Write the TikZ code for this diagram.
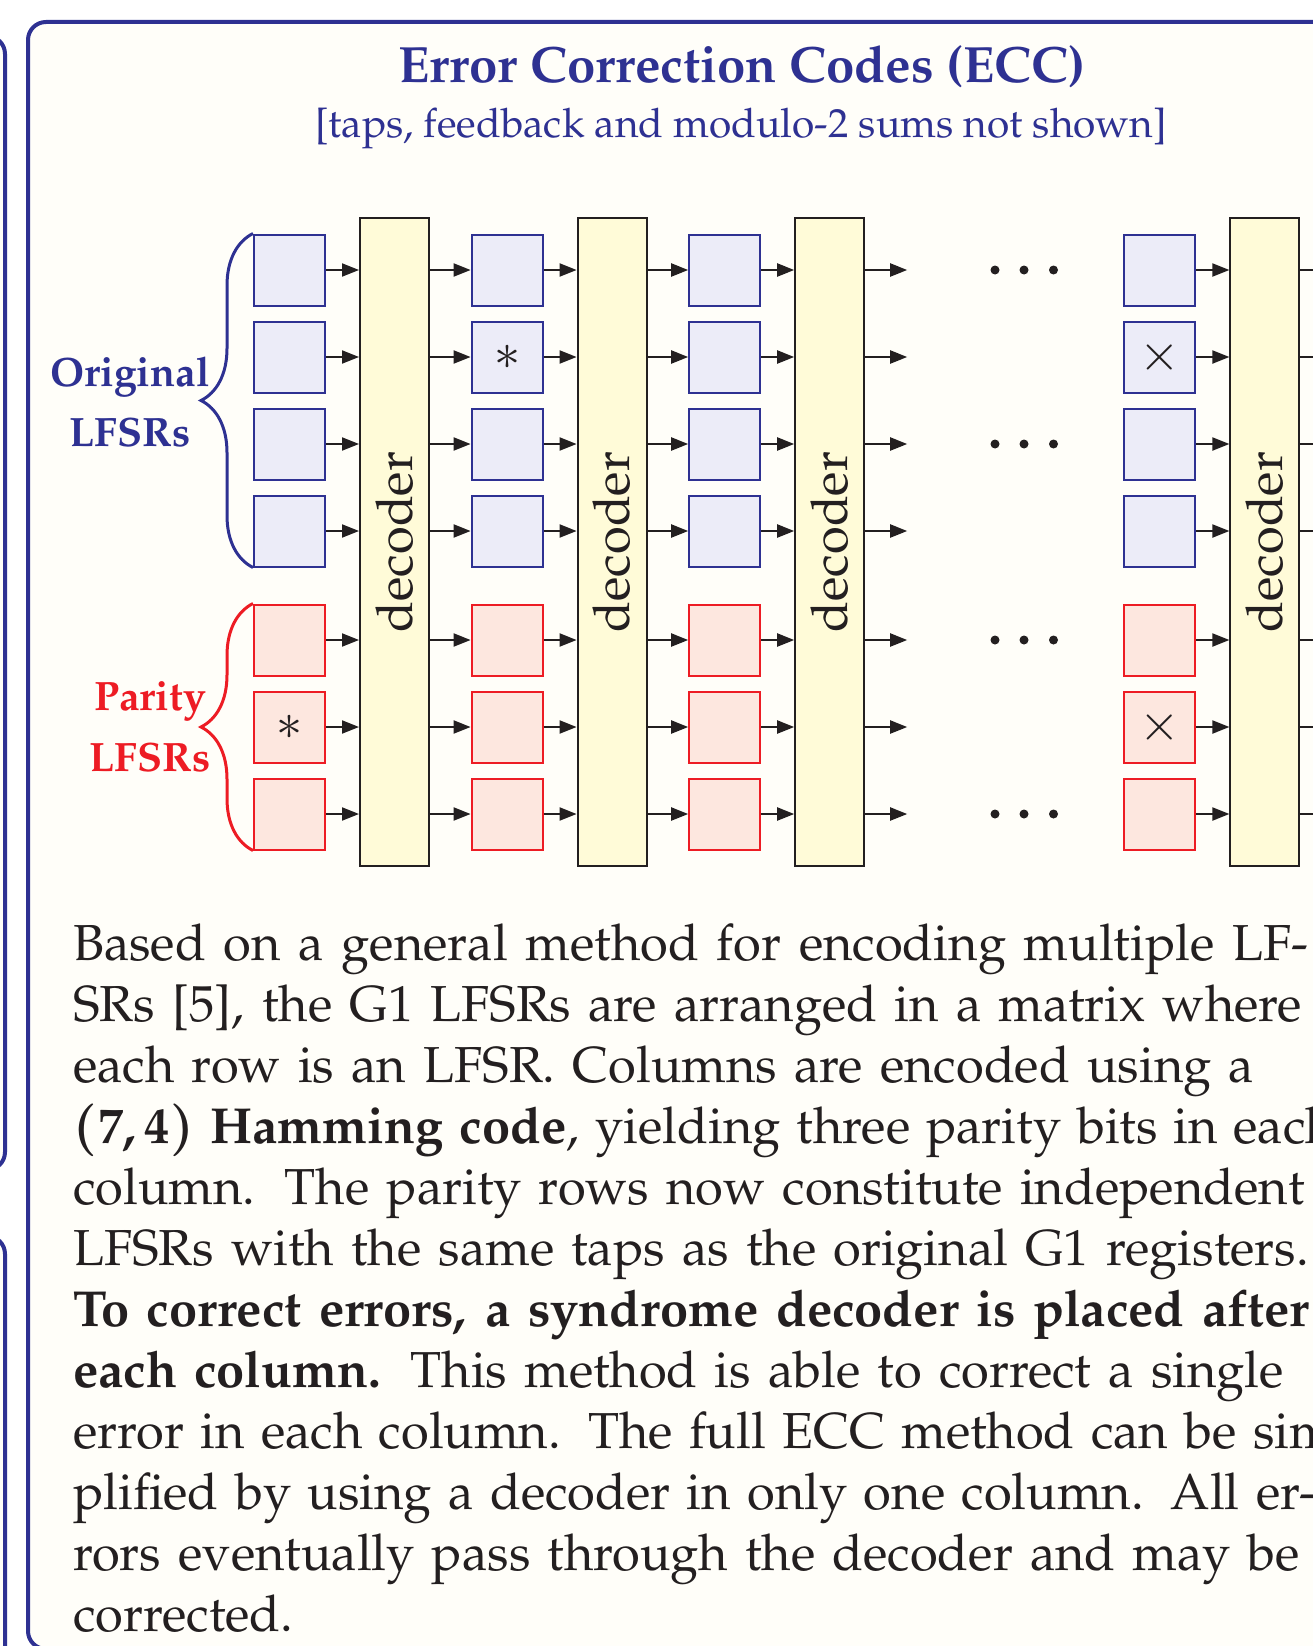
\documentclass[tikz,border=0pt]{standalone}
\usepackage[T1]{fontenc}
\usepackage{mathpazo}
\usepackage{graphicx}
\usetikzlibrary{arrows.meta,decorations.pathreplacing,calc}
\definecolor{frameblue}{RGB}{46,49,146}
\definecolor{cellblue}{RGB}{236,236,248}
\definecolor{parred}{RGB}{237,28,36}
\definecolor{cellred}{RGB}{253,231,223}
\definecolor{decfill}{RGB}{255,251,216}
\definecolor{decdraw}{RGB}{35,31,32}
\definecolor{cream}{RGB}{255,254,249}
\definecolor{ink}{RGB}{35,31,32}
\newcommand{\myline}[2]{\makebox[#1pt][s]{#2}}
\tikzset{
  origcell/.style={draw=frameblue, fill=cellblue, line width=2pt, minimum width=71pt, minimum height=71pt, inner sep=0pt},
  parcell/.style={origcell, draw=parred, fill=cellred},
  marktext/.style={inner sep=0pt, text=ink, font=\fontsize{50}{54}\selectfont},
  decbox/.style={draw=decdraw, fill=decfill, line width=2pt, minimum width=69pt, minimum height=648pt, inner sep=0pt, text=ink, font=\fontsize{50.6}{60}\selectfont},
  flow/.style={draw=ink, line width=2pt, -{Triangle[length=17pt,width=13pt]}},
  dotn/.style={circle, fill=ink, inner sep=0pt, minimum size=9pt},
  bodyline/.style={anchor=base west, inner sep=0pt, text=ink, font=\fontsize{50.6}{61}\selectfont},
  sidelbl/.style={anchor=base, inner sep=0pt, font=\fontsize{41}{60}\selectfont\bfseries},
  curly/.style={decorate, decoration={brace, amplitude=52pt}, line width=3pt},
  panel/.style={draw=frameblue, line width=4pt, fill=cream, rounded corners=18pt},
}
\begin{document}
\begin{tikzpicture}[x=1pt,y=-1pt]
\useasboundingbox (0,0) rectangle (1312,1646);
\fill[white] (0,0) rectangle (1312,1646);
% neighbouring panels on the left and the main panel
\draw[panel] (-120,36) rectangle (5,1170);
\draw[panel] (-120,1236) rectangle (5,1760);
\draw[panel] (28,22) rectangle (1360,1649);
% titles
\node[anchor=base, inner sep=0pt, text=frameblue, font=\fontsize{51}{60}\selectfont\bfseries] (title) at (742,82) {Error Correction Codes (ECC)};
\node[anchor=base, inner sep=0pt, text=frameblue, font=\fontsize{40.6}{47}\selectfont] (subtitle) at (741,137) {[taps, feedback and modulo-2 sums not shown]};
% decoders and cells
\foreach \c in {0,1,2,4} {
  \pgfmathsetmacro\cx{289.5+217.6*\c}
  \pgfmathsetmacro\dx{394.5+217.6*\c}
  \node[decbox] (d\c) at (\dx,542) {\rotatebox{90}{decoder}};
  \foreach \r in {0,...,3} \node[origcell] (o\r-\c) at (\cx,{270+87*\r}) {};
  \foreach \r in {0,...,2} \node[parcell] (p\r-\c) at (\cx,{640+87*\r}) {};
}
% error marks
\node[marktext] (m1) at (o1-1) {$\ast$};
\node[marktext] (m2) at (p1-0) {$\ast$};
\node[marktext] (m3) at (o1-4) {$\times$};
\node[marktext] (m4) at (p1-4) {$\times$};
% connectors
\foreach \k in {o0,o1,o2,o3,p0,p1,p2} {
  \foreach \c in {0,1,2,4} \draw[flow] (\k-\c.east) -- (\k-\c.east -| d\c.west);
  \draw[flow] (\k-0.east -| d0.east) -- (\k-1.west);
  \draw[flow] (\k-1.east -| d1.east) -- (\k-2.west);
  \coordinate (\k-x2) at ($(\k-2.east -| d2.east)+(42,0)$);
  \draw[flow] (\k-2.east -| d2.east) -- (\k-x2);
  \coordinate (\k-x4) at ($(\k-4.east -| d4.east)+(42,0)$);
  \draw[flow] (\k-4.east -| d4.east) -- (\k-x4);
}
% ellipses
\foreach \k in {o0,o2,p0,p2} {
  \node[dotn] (\k-da) at (995,0 |- \k-0) {};
  \node[dotn] (\k-db) at (1024,0 |- \k-0) {};
  \node[dotn] (\k-dc) at (1053.5,0 |- \k-0) {};
}
% braces and labels
\draw[curly, frameblue] (o3-0.south west) -- (o0-0.north west);
\draw[curly, parred] (p2-0.south west) -- (p0-0.north west);
\node[sidelbl, text=frameblue] (ol1) at (130,386) {Original};
\node[sidelbl, text=frameblue] (ol2) at (130,446) {LFSRs};
\node[sidelbl, text=parred] (pl1) at (150,710) {Parity};
\node[sidelbl, text=parred] (pl2) at (150,771) {LFSRs};
% body text
\node[bodyline] (t1) at (73,960) {\myline{1235}{Based on a general method for encoding multiple LF-}};
\node[bodyline] (t2) at (73,1021.06) {\myline{1229}{SRs [5], the G1 LFSRs are arranged in a matrix where}};
\node[bodyline] (t3) at (73,1082.12) {\myline{1181}{each row is an LFSR. Columns are encoded using a}};
\node[bodyline] (t4) at (73,1143.18) {\myline{1262}{{\boldmath$(7,4)$} \textbf{Hamming code}, yielding three parity bits in each}};
\node[bodyline] (t5) at (73,1204.24) {\myline{1231.5}{column. The parity rows now constitute independent}};
\node[bodyline] (t6) at (73,1265.30) {\myline{1235.7}{LFSRs with the same taps as the original G1 registers.}};
\node[bodyline] (t7) at (73,1326.36) {\myline{1236}{\textbf{To correct errors, a syndrome decoder is placed after}}};
\node[bodyline] (t8) at (73,1387.42) {\myline{1210.6}{\textbf{each column.} This method is able to correct a single}};
\node[bodyline] (t9) at (73,1448.48) {\myline{1278}{error in each column. The full ECC method can be sim-}};
\node[bodyline] (t10) at (73,1509.54) {\myline{1243}{plified by using a decoder in only one column. All er-}};
\node[bodyline] (t11) at (73,1570.60) {\myline{1227}{rors eventually pass through the decoder and may be}};
\node[bodyline] (t12) at (73,1631.66) {corrected.};
\end{tikzpicture}
\end{document}
